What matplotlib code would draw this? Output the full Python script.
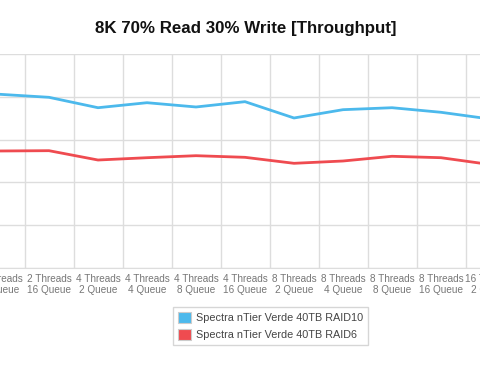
import matplotlib
matplotlib.use("Agg")
import matplotlib.pyplot as plt
from matplotlib.patches import Patch

categories = [
    "2 Threads\n8 Queue", "2 Threads\n16 Queue",
    "4 Threads\n2 Queue", "4 Threads\n4 Queue", "4 Threads\n8 Queue", "4 Threads\n16 Queue",
    "8 Threads\n2 Queue", "8 Threads\n4 Queue", "8 Threads\n8 Queue", "8 Threads\n16 Queue",
    "16 Threads\n2 Queue",
]
raid10 = [405.8, 398.8, 374.5, 386.2, 376.2, 388.6, 350.5, 369.9, 374.5, 363.8, 348.1]
raid6 = [273.4, 274.1, 252.3, 257.7, 262.4, 258.6, 244.6, 250.0, 261.0, 257.7, 241.8]
series_names = ["Spectra nTier Verde 40TB RAID10", "Spectra nTier Verde 40TB RAID6"]
colors = ["#4cb9ec", "#ef4b50"]
title = "8K 70% Read 30% Write [Throughput]"

plt.rcParams['font.family'] = ['Liberation Sans', 'DejaVu Sans']

W, H = 480, 376
fig = plt.figure(figsize=(W / 100, H / 100), dpi=100)
left_px, right_px = -24.5, 514.5
top_px, bot_px = 54, 268
ax = fig.add_axes([left_px / W, (H - bot_px) / H, (right_px - left_px) / W, (bot_px - top_px) / H])

x = list(range(len(categories)))
ax.plot(x, raid10, color=colors[0], lw=2.0, solid_joinstyle='round')
ax.plot(x, raid6, color=colors[1], lw=2.0, solid_joinstyle='round')

ax.set_xlim(-0.5, len(categories) - 0.5)
ax.set_ylim(0, 500)
ax.set_yticks(range(0, 501, 100))
ax.set_xticks(x)
ax.set_xticklabels(categories, fontsize=7.2, color="#777777", linespacing=1.1)
ax.set_xticks([i + 0.5 for i in range(-1, len(categories))], minor=True)
ax.tick_params(axis='x', which='major', length=0, pad=4.5)
ax.tick_params(axis='x', which='minor', length=0)
ax.tick_params(axis='y', length=0, labelleft=False)
ax.grid(True, axis='y', color="#dddddd", lw=1)
ax.grid(True, axis='x', which='minor', color="#dddddd", lw=1)
for s in ['top', 'left', 'right']:
    ax.spines[s].set_visible(False)
ax.spines['bottom'].set_color("#dddddd")
ax.set_axisbelow(True)

fig.text(246 / W, 1 - 29 / H, title, ha='center', va='center', fontsize=12.2, fontweight='bold', color='#111111')

handles = [Patch(facecolor=c, edgecolor='#cccccc', lw=0.8) for c in colors]
leg = fig.legend(handles, series_names, loc='upper left', bbox_to_anchor=(173 / W, 1 - 307 / H),
                 fontsize=7.8, frameon=True, fancybox=False, edgecolor='#cccccc',
                 handlelength=1.25, handleheight=1.25, handletextpad=0.45, borderpad=0.45,
                 labelspacing=0.5, borderaxespad=0)
for t in leg.get_texts():
    t.set_color('#444444')
leg.get_frame().set_linewidth(1)

fig.savefig("out.png", dpi=100)
